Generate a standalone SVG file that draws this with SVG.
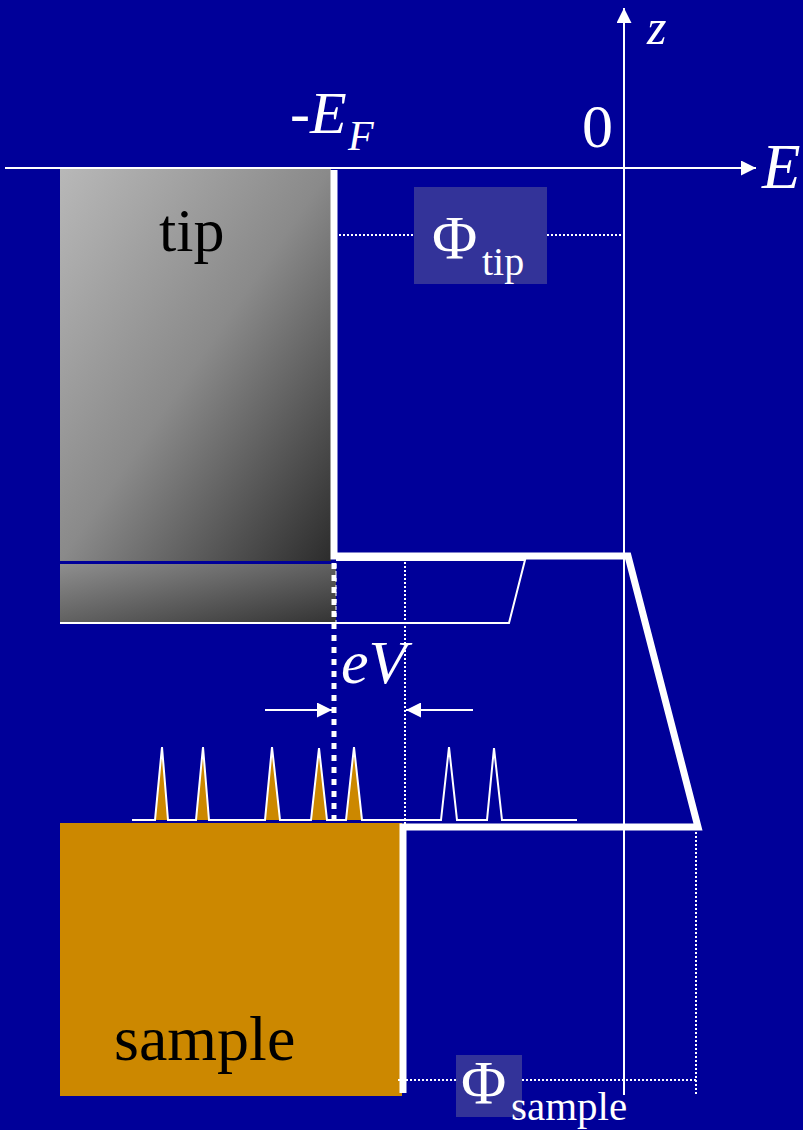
<svg xmlns="http://www.w3.org/2000/svg" width="803" height="1130" viewBox="0 0 803 1130">
<defs>
<linearGradient id="gTip" x1="0" y1="0" x2="1" y2="1">
<stop offset="0" stop-color="#b8b8b8"/>
<stop offset="0.5" stop-color="#8a8a8a"/>
<stop offset="1" stop-color="#2c2c2c"/>
</linearGradient>
<linearGradient id="gBand" x1="0" y1="0" x2="1" y2="1">
<stop offset="0" stop-color="#8e8e8e"/>
<stop offset="1" stop-color="#333333"/>
</linearGradient>
<marker id="ah" viewBox="0 0 10 10" refX="10" refY="5" markerWidth="15" markerHeight="15" markerUnits="userSpaceOnUse" orient="auto">
<path d="M0,0 L10,5 L0,10 Z" fill="#fff"/>
</marker>
</defs>
<style>
.serif{font-family:"Liberation Serif","Times New Roman",serif}
.w{fill:#fff}
.thin{stroke:#fff;stroke-width:2;fill:none}
.dot{stroke:#fff;stroke-width:2;stroke-dasharray:2 2;fill:none}
.thick{stroke:#fff;stroke-width:7;fill:none;stroke-linejoin:miter}
.phibox{fill:#333399}
.orange{fill:#cc8800}
</style>
<rect x="0" y="0" width="803" height="1130" fill="#000099"/>

<g id="tip">
<rect x="60" y="168" width="271" height="393" fill="url(#gTip)"/>
<rect x="60" y="564" width="276" height="59" fill="url(#gBand)"/>
<text class="serif" x="159" y="251" font-size="62" fill="#000">tip</text>
</g>

<g id="sample">
<rect x="60" y="823" width="342" height="273" class="orange"/>
<text class="serif" x="114" y="1060" font-size="64" fill="#000">sample</text>
</g>

<g id="connectors">
<line x1="5" y1="168" x2="756" y2="168" class="thin" marker-end="url(#ah)"/>
<line x1="624" y1="1095" x2="624" y2="8" class="thin" marker-end="url(#ah)"/>
<polyline points="334,170 334,556 628,556 698,827 403,827 403,1093" class="thick"/>
<polyline points="336,560 525,560 509,623 60,623" class="thin"/>
<line x1="334" y1="563" x2="334" y2="822" stroke="#fff" stroke-width="5" stroke-dasharray="6 6"/>
<line x1="336" y1="564" x2="336" y2="623" stroke="#fff" stroke-width="1" stroke-dasharray="4 3"/>
<line x1="405" y1="562" x2="405" y2="824" class="dot"/>
<line x1="339" y1="235" x2="414" y2="235" class="dot"/>
<line x1="547" y1="235" x2="624" y2="235" class="dot"/>
<line x1="398" y1="1080" x2="456" y2="1080" class="dot"/>
<line x1="522" y1="1080" x2="696" y2="1080" class="dot"/>
<line x1="696" y1="832" x2="696" y2="1095" class="dot"/>
<line x1="265" y1="710" x2="332" y2="710" class="thin" marker-end="url(#ah)"/>
<line x1="473" y1="710" x2="406" y2="710" class="thin" marker-end="url(#ah)"/>
</g>

<g id="spectrum">
<polygon points="155,820 162,747 168,820" class="orange"/>
<polygon points="196,820 203,747 209,820" class="orange"/>
<polygon points="265,820 272,747 280,820" class="orange"/>
<polygon points="311,820 319,748 327,820" class="orange"/>
<polygon points="346,820 354,747 362,820" class="orange"/>
<polyline points="132,820 155,820 162,747 168,820 196,820 203,747 209,820 265,820 272,747 280,820 311,820 319,748 327,820 346,820 354,747 362,820 441,820 449,747 457,820 487,820 494,748 502,820 577,820" class="thin"/>
</g>

<g id="labels">
<text class="serif w" x="290" y="133" font-size="60" font-style="italic">-E</text>
<text class="serif w" x="348" y="150" font-size="42" font-style="italic">F</text>
<text class="serif w" x="582" y="147" font-size="62">0</text>
<text class="serif w" x="762" y="188" font-size="63" font-style="italic">E</text>
<text class="serif w" x="647" y="44" font-size="50" font-style="italic">z</text>
<text class="serif w" x="341" y="683" font-size="62" font-style="italic">eV</text>
</g>

<g id="phi-tip">
<rect x="414" y="187" width="133" height="97" class="phibox"/>
<text class="serif w" x="432" y="258" font-size="62">Φ</text>
<text class="serif w" x="482" y="275" font-size="40">tip</text>
</g>

<g id="phi-sample">
<rect x="456" y="1055" width="66" height="62" class="phibox"/>
<text class="serif w" x="461" y="1103" font-size="62">Φ</text>
<text class="serif w" x="511" y="1120" font-size="41">sample</text>
</g>
</svg>
